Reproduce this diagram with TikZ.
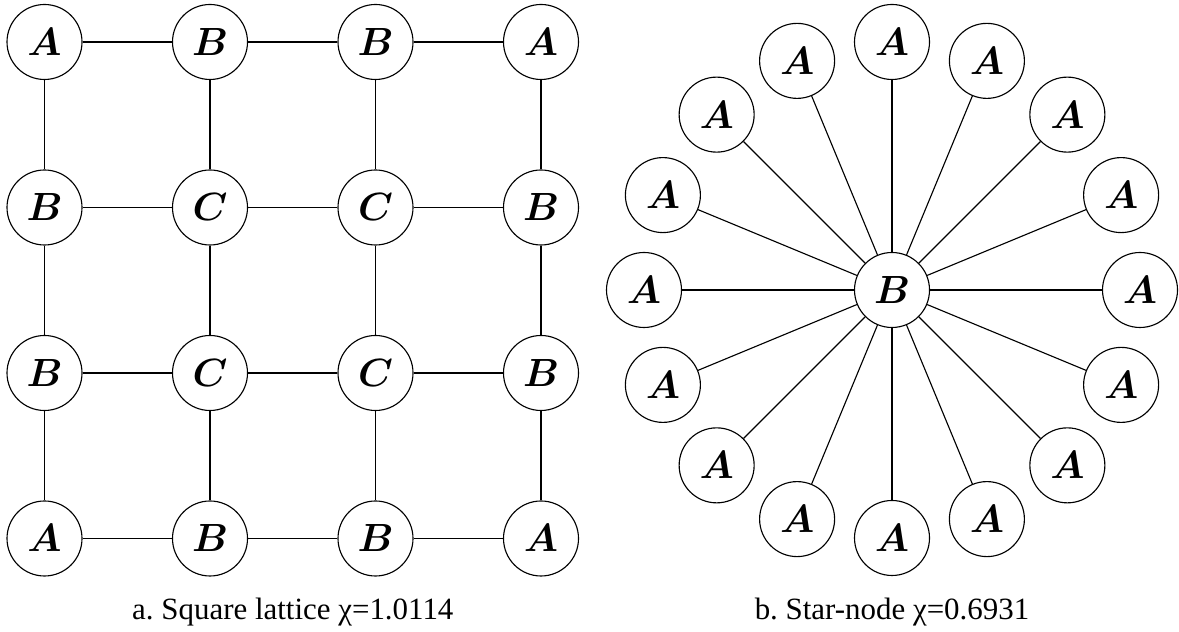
\documentclass[tikz,border=0pt]{standalone}
\usepackage{amsmath}
\usepackage{graphicx}
\usepackage{fontspec}
\newfontfamily\capfont{Liberation Serif}
\usepackage{tikz}

\newcommand{\sitelab}[1]{\scalebox{1.125}{$\boldsymbol{#1}$}}

\tikzset{
  site/.style={circle,draw,line width=0.8pt,minimum size=1.875cm,inner sep=0pt,
    font=\fontsize{24.88}{30}\selectfont},
  bond/.style={line width=0.8pt},
  caption/.style={anchor=base,font=\capfont\fontsize{22}{26}\selectfont}
}

\begin{document}
\begin{tikzpicture}[scale=1]
  \useasboundingbox (0,0) rectangle (29.475,15.8);

  % square lattice
  \foreach \r/\row in {0/{A,B,B,A},1/{B,C,C,B},2/{B,C,C,B},3/{A,B,B,A}}{
    \foreach \lab [count=\c from 0] in \row {
      \node[site] (s\r\c) at (1.1125+4.1375*\c,14.75-4.1375*\r) {\sitelab{\lab}};
    }
  }
  \foreach \c/\d in {0/1,1/2,2/3}{
    \foreach \r in {0,...,3}{
      \draw[bond] (s\r\c) -- (s\r\d);
      \draw[bond] (s\c\r) -- (s\d\r);
    }
  }
  \node[caption] (capa) at (7.32,0.3) {a.\ Square lattice χ=1.0114};

  % star node
  \node[site] (ctr) at (22.3,8.55) {\sitelab{B}};
  \foreach \k [evaluate=\k as \ang using 112.5-22.5*\k] in {1,...,16}{
    \path (ctr) ++(\ang:6.2) node[site] (leaf\k) {\sitelab{A}};
    \draw[bond] (ctr) -- (leaf\k);
  }
  \node[caption] (capb) at (22.3,0.3) {b.\ Star-node χ=0.6931};
\end{tikzpicture}
\end{document}
